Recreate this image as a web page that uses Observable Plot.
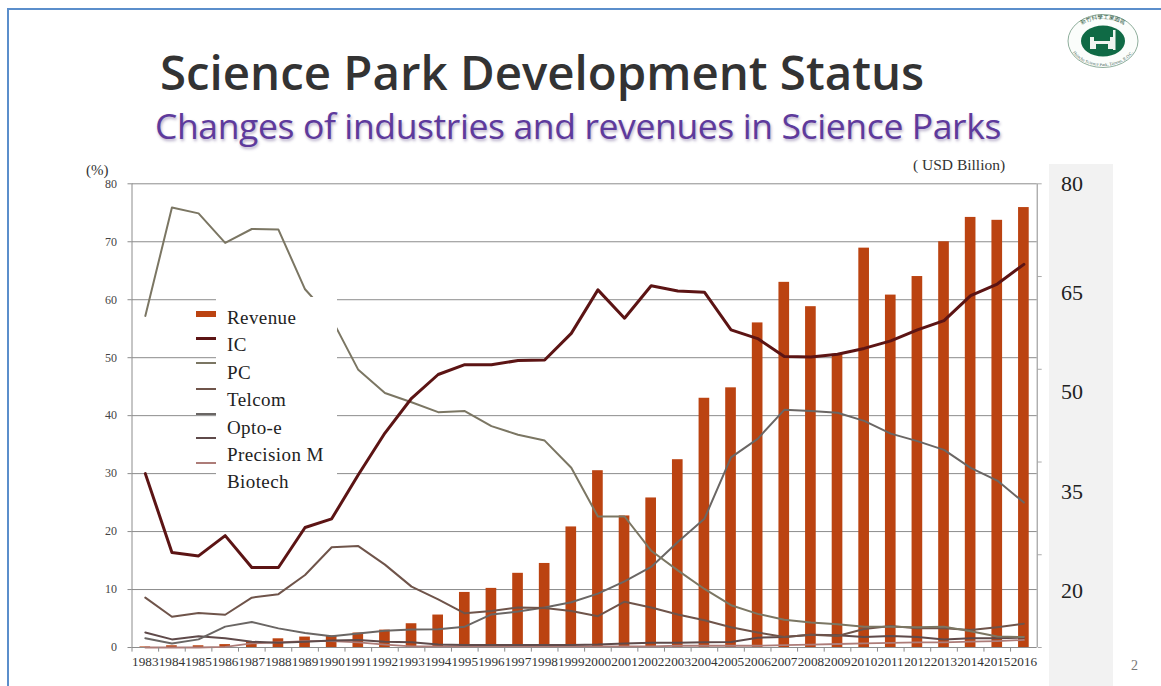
<!DOCTYPE html>
<html>
<head>
<meta charset="utf-8">
<script src="https://cdn.jsdelivr.net/npm/d3@7"></script>
<script src="https://cdn.jsdelivr.net/npm/@observablehq/plot@0.6"></script>
<style>
  html, body { margin: 0; padding: 0; background: #fff; width: 1161px; height: 686px; overflow: hidden; }
  #page { position: relative; width: 1161px; height: 686px; overflow: hidden; }
  #frame { position: absolute; left: 7px; top: 8px; width: 1180px; height: 700px; border: 2px solid #5b8ecb; box-sizing: border-box; }
  #grayband { position: absolute; left: 1049px; top: 164px; width: 64px; height: 522px; background: #f2f2f2; }
  #chart { position: absolute; left: 0; top: 164px; }
  #chart svg { background: transparent; display: block; }
  .abs { position: absolute; white-space: nowrap; }
  #title { left: 160px; top: 37px; font: 600 47.4px/70px "Open Sans", sans-serif; color: #333; }
  #subtitle { left: 155px; top: 99px; font: 400 35.5px/52px "Open Sans", sans-serif; color: #5e3a9c; letter-spacing: -0.38px; text-shadow: 1px 2px 3px rgba(90,70,130,.45); }
  .serif { font-family: "Liberation Serif", serif; }
  #legendmask { left: 216px; top: 297px; width: 121px; height: 198px; background: #fff; }
  .lg { left: 227px; font: 19px/22px "Liberation Serif", serif; letter-spacing: .4px; color: #222; transform: translateY(-11px); }
  .sw { left: 196px; width: 20px; }
</style>
</head>
<body>
<div id="page">
  <div id="frame"></div>
  <div id="grayband"></div>
  <div id="chart"></div>
  <div class="abs" id="title">Science Park Development Status</div>
  <div class="abs" id="subtitle">Changes of industries and revenues in Science Parks</div>
  <div class="abs serif" style="left:86px;top:162px;font-size:15px;color:#333">(%)</div>
  <div class="abs serif" style="left:913px;top:156px;font-size:15.5px;color:#333">( USD Billion)</div>
  <div class="abs serif" style="left:1131px;top:658px;font-size:14px;color:#777">2</div>
  <div class="abs" id="legendmask"></div>
  <div id="legend"></div>
  <svg class="abs" style="left:1066px;top:12px" width="74" height="60" viewBox="0 0 74 60">
    <defs>
      <path id="ringTop" d="M6,29 A31,22 0 0 1 68,29"/>
      <path id="ringBottom" d="M3,29 A34,25 0 0 0 71,29"/>
    </defs>
    <ellipse cx="37" cy="29" rx="35" ry="26.5" fill="#fbfdfb" stroke="#8fae9c" stroke-width="1"/>
    <ellipse cx="37" cy="29" rx="22" ry="15.5" fill="#0f6a45"/>
    <path d="M24,37 V25 H28 V29 H44 V25 H48 V37 H42 V32 H30 V37 Z" fill="#eef5f0"/>
    <rect x="47" y="18" width="2.5" height="20" fill="#eef5f0"/>
    <text font-size="5.5" fill="#2e5a45" font-family="Noto Sans CJK TC" text-anchor="middle"><textPath href="#ringTop" startOffset="50%">新竹科學工業園區</textPath></text>
    <text font-size="4.4" fill="#4d6b5b" font-family="Liberation Serif" text-anchor="middle"><textPath href="#ringBottom" startOffset="50%">Hsinchu Science Park, Taiwan, R.O.C.</textPath></text>
  </svg>
</div>
<script>
const years = ["1983","1984","1985","1986","1987","1988","1989","1990","1991","1992","1993","1994","1995","1996","1997","1998","1999","2000","2001","2002","2003","2004","2005","2006","2007","2008","2009","2010","2011","2012","2013","2014","2015","2016"];
// Revenue bars, read against the left-hand gridlines of the picture
const revenue = [0.1,0.3,0.3,0.5,0.9,1.5,1.8,2.0,2.5,3.0,4.1,5.6,9.5,10.2,12.8,14.5,20.8,30.5,22.7,25.8,32.4,43.0,44.8,56.0,63.0,58.8,50.6,68.9,60.8,64.0,70.0,74.2,73.7,75.9];
const ic = [30.0,16.4,15.8,19.3,13.8,13.8,20.7,22.2,29.8,37.0,43.0,47.1,48.8,48.8,49.5,49.6,54.2,61.7,56.8,62.4,61.5,61.3,54.8,53.3,50.2,50.1,50.6,51.6,52.9,54.8,56.4,60.7,62.7,66.1];
const pc = [57.2,75.9,74.9,69.8,72.2,72.1,61.8,56.7,47.9,43.9,42.3,40.6,40.8,38.2,36.7,35.7,31.0,22.6,22.6,16.7,13.3,10.1,7.3,5.8,4.8,4.3,4.0,3.6,3.6,3.5,3.6,2.8,1.9,1.8];
const telcom = [8.6,5.3,5.95,5.65,8.6,9.2,12.5,17.3,17.5,14.3,10.5,8.3,5.9,6.3,6.9,6.8,6.3,5.4,7.9,6.9,5.7,4.7,3.5,2.6,1.8,2.2,2.0,3.2,3.7,3.3,3.3,3.0,3.5,4.1];
const opto = [1.6,0.7,1.4,3.6,4.4,3.3,2.5,1.95,2.4,2.9,3.1,3.15,3.6,5.7,6.2,6.9,7.8,9.3,11.4,13.9,18.2,22.2,32.8,36.0,41.0,40.8,40.5,39.1,36.9,35.6,34.1,31.0,28.8,25.0];
const precision = [2.6,1.4,1.95,1.6,1.0,0.8,1.0,1.2,1.3,1.0,0.9,0.5,0.45,0.45,0.45,0.45,0.45,0.5,0.7,0.8,0.8,0.9,0.95,1.7,1.8,2.2,2.1,1.8,2.0,1.8,1.4,1.6,1.6,1.7];
const biotech = [0,0,0,0.1,0.7,0.9,1.1,1.1,0.9,0.5,0.2,0.2,0.2,0.2,0.2,0.2,0.2,0.2,0.2,0.2,0.3,0.3,0.3,0.3,0.4,0.5,0.6,0.7,0.8,0.9,0.9,1.0,1.1,1.3];

const leftTicks = [0,10,20,30,40,50,60,70,80];
const rightTicks = [0,16,32,48,64,80];
// Pasted right-hand labels and where they sit, in left-axis units
const rightLabels = ["80","65","50","35","20"];
const rightLabelAt = [80,61.1,44.1,26.9,9.8];

const legendNames = ["Revenue","IC","PC","Telcom","Opto-e","Precision M","Biotech"];
const legendColors = ["#bb4311","#5c1414","#7b7663","#6f544a","#6a6664","#5f4a4a","#ad7c78"];
const legendLabelTop = [318,345,373,400,428,455,482];
const legendSwatchTop = [314,338,363,389,414,438,463];
const legendSwatchH = [6,3,2,2,2,2,2];

const lineSeries = [[ic,3],[pc,2],[telcom,2],[opto,2],[precision,2],[biotech,1.8]];
const drawOrder = [5,4,3,2,1,0];
const stepPx = (1036.7 - 131.5) / years.length;

const chart = Plot.plot({
  width: 1161, height: 522,
  marginLeft: 131.5, marginRight: 124.3, marginTop: 19.3, marginBottom: 39,
  style: {background: "transparent", overflow: "visible"},
  x: {type: "band", domain: years, paddingInner: 0.6, paddingOuter: 0.3, round: false, label: null},
  y: {domain: [0,80], label: null},
  marks: [
    Plot.ruleY(leftTicks, {stroke: "#8c8c8c", strokeWidth: 1}),
    Plot.axisY({ticks: leftTicks, tickSize: 4, tickPadding: 11, label: null, fontSize: 12, fontFamily: "Liberation Serif", color: "#444", stroke: "#8c8c8c"}),
    Plot.axisY({anchor: "right", ticks: rightTicks, tickSize: 4, tickFormat: () => "", label: null, stroke: "#aaa"}),
    Plot.barY(revenue, {x: years, y: d => d, fill: legendColors[0]}),
    ...drawOrder.map(i => Plot.lineY(lineSeries[i][0], {x: years, stroke: legendColors[i+1], strokeWidth: lineSeries[i][1], strokeLinejoin: "round"})),
    Plot.ruleX(years, {y1: 0, y2: -0.8, dx: -stepPx/2, stroke: "#8c8c8c"}),
    Plot.ruleX(years.slice(-1), {y1: 0, y2: 80, dx: stepPx/2, stroke: "#8c8c8c"}),
    Plot.ruleX(years.slice(0,1), {y1: 0, y2: 80, dx: -stepPx/2, stroke: "#8c8c8c"}),
    Plot.axisX({tickSize: 0, tickPadding: 9, label: null, fontSize: 13.2, fontFamily: "Liberation Serif", color: "#333", tickFormat: d => d}),
    Plot.text(rightLabels, {x: () => "2016", y: rightLabelAt, dx: 48, text: d => d, fontSize: 22, fontFamily: "Liberation Serif", fill: "#222"})
  ]
});
document.getElementById("chart").append(chart);

const lg = document.getElementById("legend");
legendNames.forEach((name, i) => {
  const t = document.createElement("div");
  t.className = "abs lg"; t.style.top = legendLabelTop[i] + "px"; t.textContent = name;
  lg.append(t);
  const s = document.createElement("div");
  s.className = "abs sw"; s.style.top = (legendSwatchTop[i] - legendSwatchH[i]/2) + "px";
  s.style.height = legendSwatchH[i] + "px"; s.style.background = legendColors[i];
  lg.append(s);
});
</script>
</body>
</html>
